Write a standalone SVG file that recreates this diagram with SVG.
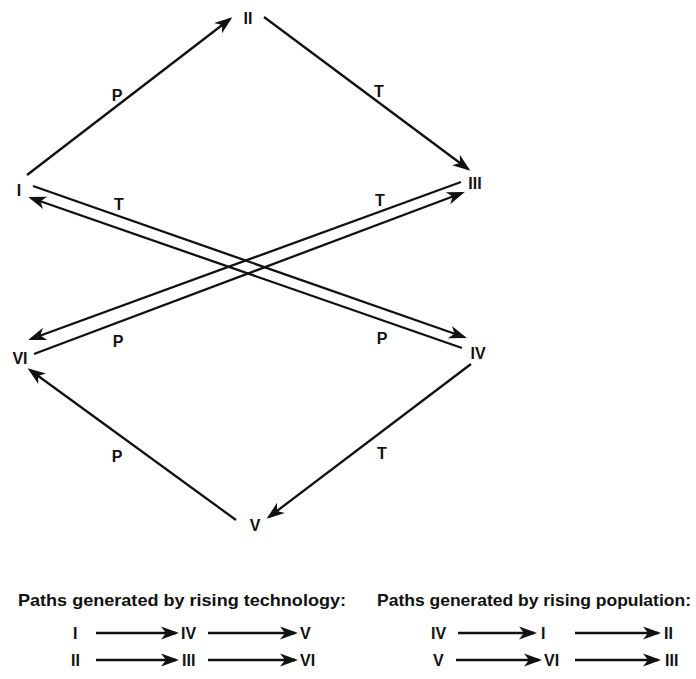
<svg xmlns="http://www.w3.org/2000/svg" width="696" height="679" viewBox="0 0 696 679">
<style>
.n{font-family:"Liberation Sans",Arial,sans-serif;font-weight:bold;font-size:16px;fill:#111;text-anchor:middle}
.e{font-family:"Liberation Sans",Arial,sans-serif;font-weight:bold;font-size:16px;fill:#111;text-anchor:middle}
.t{font-family:"Liberation Sans",Arial,sans-serif;font-weight:bold;font-size:17px;fill:#111}
.r{font-family:"Liberation Sans",Arial,sans-serif;font-weight:bold;font-size:16px;fill:#111}
.c line{stroke:#111;stroke-width:2.3;marker-end:url(#ah)}
</style>
<defs>
<marker id="ah" markerUnits="userSpaceOnUse" markerWidth="20" markerHeight="13" refX="15" refY="6.5" orient="auto" overflow="visible">
<path d="M0,0 L18,6.5 L0,13 L5,6.5 Z" fill="#111"/>
</marker>
</defs>
<rect width="696" height="679" fill="#fff"/>
<g id="connectors" class="c">
<line x1="27" y1="175" x2="230" y2="19"/>
<line x1="264" y1="17" x2="468" y2="169"/>
<line x1="33" y1="186" x2="464" y2="337"/>
<line x1="462" y1="348" x2="31" y2="198"/>
<line x1="461" y1="182" x2="31" y2="339"/>
<line x1="34" y1="354" x2="462" y2="193"/>
<line x1="471" y1="364" x2="269" y2="517"/>
<line x1="236" y1="520" x2="30" y2="370"/>
<line x1="96" y1="633" x2="176" y2="633"/>
<line x1="208" y1="633" x2="295" y2="633"/>
<line x1="96" y1="660" x2="176" y2="660"/>
<line x1="208" y1="660" x2="295" y2="660"/>
<line x1="458" y1="633" x2="534" y2="633"/>
<line x1="575" y1="633" x2="658" y2="633"/>
<line x1="456" y1="660" x2="539" y2="660"/>
<line x1="575" y1="660" x2="658" y2="660"/>
</g>
<g id="edge-labels">
<text class="e" x="117" y="101">P</text>
<text class="e" x="379" y="97">T</text>
<text class="e" x="119" y="210">T</text>
<text class="e" x="380" y="206">T</text>
<text class="e" x="118" y="347">P</text>
<text class="e" x="382" y="344">P</text>
<text class="e" x="382" y="459">T</text>
<text class="e" x="117" y="462">P</text>
</g>
<g id="node-I"><text class="n" x="19" y="196">I</text></g>
<g id="node-II"><text class="n" x="248" y="24">II</text></g>
<g id="node-III"><text class="n" x="475" y="189">III</text></g>
<g id="node-IV"><text class="n" x="478" y="359">IV</text></g>
<g id="node-V"><text class="n" x="255" y="531">V</text></g>
<g id="node-VI"><text class="n" x="20" y="364">VI</text></g>
<g id="legend">
<text class="t" x="18" y="606" textLength="328" lengthAdjust="spacingAndGlyphs">Paths generated by rising technology:</text>
<text class="t" x="377" y="606" textLength="314" lengthAdjust="spacingAndGlyphs">Paths generated by rising population:</text>
<text class="r" x="73" y="639">I</text>
<text class="r" x="181" y="639">IV</text>
<text class="r" x="300" y="639">V</text>
<text class="r" x="71" y="666">II</text>
<text class="r" x="182" y="666">III</text>
<text class="r" x="300" y="666">VI</text>
<text class="r" x="431" y="639">IV</text>
<text class="r" x="541" y="639">I</text>
<text class="r" x="664" y="639">II</text>
<text class="r" x="433" y="666">V</text>
<text class="r" x="544" y="666">VI</text>
<text class="r" x="665" y="666">III</text>
</g>
</svg>
